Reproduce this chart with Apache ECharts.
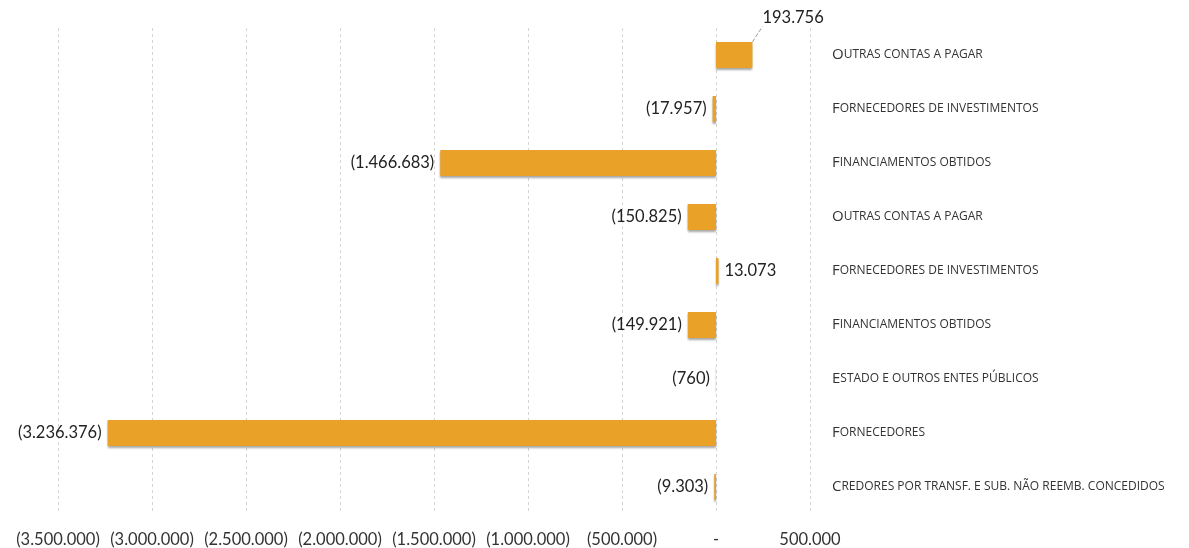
<!DOCTYPE html>
<html><head><meta charset="utf-8">
<script src="https://cdn.jsdelivr.net/npm/echarts@6/dist/echarts.min.js"></script>
<style>html,body{margin:0;padding:0;background:#fff}#c{width:1189px;height:548px}</style>
</head><body><div id="c"></div>
<script>
const categories = [
  'Outras contas a pagar',
  'Fornecedores de investimentos',
  'Financiamentos obtidos',
  'Outras contas a pagar',
  'Fornecedores de investimentos',
  'Financiamentos obtidos',
  'Estado e outros entes públicos',
  'Fornecedores',
  'Credores por transf. e sub. não reemb. concedidos'
];
const values = [193756, -17957, -1466683, -150825, 13073, -149921, -760, -3236376, -9303];
const axisMin = -3500000, axisMax = 500000, axisStep = 500000;

function fmtNum(v) {
  const s = Math.abs(Math.round(v)).toString().replace(/\B(?=(\d{3})+(?!\d))/g, '.');
  if (v === 0) return '-';
  return v < 0 ? '(' + s + ')' : s;
}
function smallCaps(t) {
  const first = t.charAt(0).toUpperCase();
  const rest = t.slice(1).toUpperCase();
  return '{a|' + first + '}{b|' + rest + '}';
}

const barData = values.map((v, i) => {
  const d = { value: v, label: { position: v < 0 ? 'left' : 'right' } };
  if (i === 0) {
    d.label = { position: 'right', distance: 0, offset: [10, -37] };
    d.labelLine = { show: true, lineStyle: { color: '#9a9a9a', type: 'dashed', width: 1 } };
  }
  return d;
});

const chart = echarts.init(document.getElementById('c'));
chart.setOption({
  animation: false,
  backgroundColor: '#fff',
  grid: { left: 58, right: 379, top: 28, bottom: 33, containLabel: false },
  xAxis: {
    type: 'value', min: axisMin, max: axisMax, interval: axisStep,
    axisLine: { show: false }, axisTick: { show: false },
    splitLine: { show: true, lineStyle: { color: '#d4d4d4', type: [3, 3], width: 1 } },
    axisLabel: { formatter: fmtNum, color: '#333', fontSize: 16.5, fontFamily: 'Lato', margin: 17 }
  },
  yAxis: {
    type: 'category', data: categories, inverse: true, position: 'right',
    axisLine: { show: false }, axisTick: { show: false },
    axisLabel: {
      margin: 22, align: 'left', color: '#333',
      formatter: smallCaps,
      rich: {
        a: { fontSize: 15, fontFamily: 'Open Sans', color: '#333' },
        b: { fontSize: 12, fontFamily: 'Open Sans', color: '#333' }
      }
    }
  },
  series: [{
    type: 'bar', data: barData, barWidth: 26,
    itemStyle: { color: '#E9A127', shadowColor: 'rgba(0,0,0,0.35)', shadowBlur: 2, shadowOffsetY: 2 },
    label: { show: true, formatter: p => fmtNum(p.value), color: '#222', fontSize: 16.5, fontFamily: 'Lato', distance: 6 }
  }]
});
</script></body></html>
